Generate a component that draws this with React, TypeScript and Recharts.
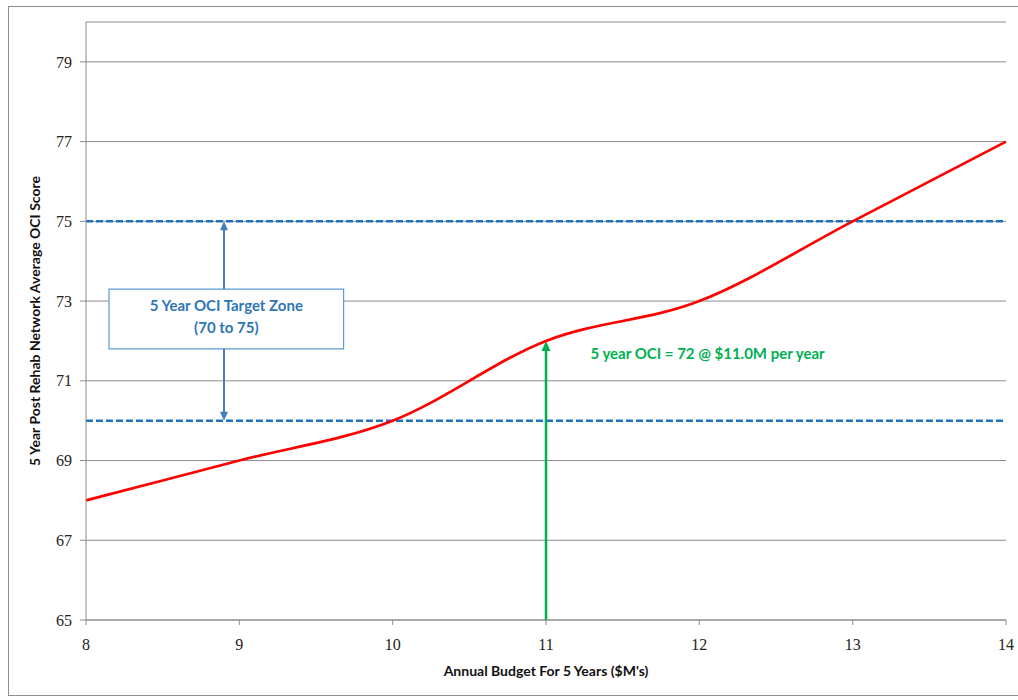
import React from 'react';
import {
  LineChart,
  Line,
  XAxis,
  YAxis,
  CartesianGrid,
  ReferenceLine,
  ReferenceArea,
  ReferenceDot,
} from 'recharts';

// ---- data ----
const budgets = [8, 9, 10, 11, 12, 13, 14];
const ociScores = [68, 69, 70, 72, 73, 75, 77];
const xTicks = [8, 9, 10, 11, 12, 13, 14];
const yTicks = [65, 67, 69, 71, 73, 75, 77, 79];
const targetZone = [70, 75];
const selectedBudget = 11;
const selectedScore = 72;
const zoneTitle = ['5 Year OCI Target Zone', '(70 to 75)'];
const selectedText = '5 year OCI = 72 @ $11.0M per year';
const xTitle = "Annual Budget For 5 Years ($M's)";
const yTitle = '5 Year Post Rehab Network Average OCI Score';

// annotation placement (data coordinates)
const zoneArrowX = 8.9;
const zoneBoxX = [8.15, 9.68];
const zoneBoxY = [71.8, 73.3];
const selectedTextAt = { x: 11.29, y: 71.67 };

const data = budgets.map((b, i) => ({ budget: b, oci: ociScores[i] }));

const BLUE_DASH = '#1F72C0';
const BLUE_ARROW = '#4A7EBB';
const BLUE_TEXT = '#2E75B6';
const GREEN = '#00B050';
const GRID = '#8C8C8C';
const SANS = 'Lato, "Open Sans", sans-serif';
const SERIF = '"Liberation Serif", "DejaVu Serif", serif';

const arrowShape = (color: string, width: number, headLen: number, headHalf: number) => (props: any) => {
  const { x1, y1, x2, y2 } = props;
  // head at (x2, y2)
  const dx = x2 - x1;
  const dy = y2 - y1;
  const len = Math.sqrt(dx * dx + dy * dy) || 1;
  const ux = dx / len;
  const uy = dy / len;
  const bx = x2 - ux * headLen;
  const by = y2 - uy * headLen;
  const px = -uy;
  const py = ux;
  const pts = `${x2},${y2} ${bx + px * headHalf},${by + py * headHalf} ${bx - px * headHalf},${by - py * headHalf}`;
  return (
    <g>
      <line x1={x1} y1={y1} x2={bx + ux * 2} y2={by + uy * 2} stroke={color} strokeWidth={width} />
      <polygon points={pts} fill={color} />
    </g>
  );
};

const ZoneLabel = (props: any) => {
  const vb = props.viewBox || {};
  const cx = vb.x + vb.width / 2;
  const cy = vb.y + vb.height / 2;
  return (
    <text textAnchor="middle" fill={BLUE_TEXT} fontFamily={SANS} fontSize={15} fontWeight={700}>
      <tspan x={cx} y={cy - 8}>{zoneTitle[0]}</tspan>
      <tspan x={cx} y={cy + 14}>{zoneTitle[1]}</tspan>
    </text>
  );
};

export default function App() {
  return (
    <div style={{ position: 'absolute', left: 0, top: 0, width: 1018, height: 700, background: '#fff', overflow: 'hidden' }}>
      <div
        style={{
          position: 'absolute',
          left: 8,
          top: 6,
          width: 1030,
          height: 690,
          border: '1px solid #8f8f8f',
          boxSizing: 'border-box',
        }}
      />
      <div style={{ position: 'absolute', left: 0, top: 0 }}>
        <LineChart
          width={1018}
          height={700}
          data={data}
          margin={{ top: 22, right: 12, bottom: 50, left: 26 }}
        >
          <CartesianGrid vertical={false} stroke={GRID} strokeWidth={1} />
          <XAxis
            dataKey="budget"
            type="number"
            domain={[8, 14]}
            ticks={xTicks}
            height={30}
            stroke={GRID}
            tickSize={5}
            tickMargin={14}
            tick={{ fill: '#222', fontFamily: SERIF, fontSize: 16 }}
            label={{ value: xTitle, position: 'bottom', offset: 16, fill: '#111', fontFamily: SANS, fontSize: 14, fontWeight: 700 }}
          />
          <YAxis
            type="number"
            domain={[65, 80]}
            ticks={yTicks}
            width={60}
            stroke={GRID}
            tickSize={6}
            tickMargin={8}
            tick={{ fill: '#222', fontFamily: SERIF, fontSize: 16 }}
            label={{
              value: yTitle,
              angle: -90,
              position: 'insideLeft',
              offset: 9,
              fill: '#111',
              fontFamily: SANS,
              fontSize: 14,
              fontWeight: 700,
              style: { textAnchor: 'middle' },
            }}
          />
          <ReferenceLine y={targetZone[1]} stroke={BLUE_DASH} strokeWidth={2.5} strokeDasharray="7 3" />
          <ReferenceLine y={targetZone[0]} stroke={BLUE_DASH} strokeWidth={2.5} strokeDasharray="7 3" />
          <ReferenceLine
            segment={[{ x: zoneArrowX, y: zoneBoxY[1] }, { x: zoneArrowX, y: targetZone[1] }]}
            shape={arrowShape(BLUE_ARROW, 2, 9, 4)}
          />
          <ReferenceLine
            segment={[{ x: zoneArrowX, y: zoneBoxY[0] }, { x: zoneArrowX, y: targetZone[0] }]}
            shape={arrowShape(BLUE_ARROW, 2, 9, 4)}
          />
          <ReferenceArea
            x1={zoneBoxX[0]}
            x2={zoneBoxX[1]}
            y1={zoneBoxY[0]}
            y2={zoneBoxY[1]}
            fill="#ffffff"
            fillOpacity={1}
            stroke="#5B9BD5"
            strokeWidth={1.2}
            label={(p: any) => <ZoneLabel {...p} />}
          />
          <ReferenceLine
            segment={[{ x: selectedBudget, y: 65 }, { x: selectedBudget, y: selectedScore }]}
            shape={arrowShape(GREEN, 2.5, 10, 4.5)}
          />
          <ReferenceDot
            x={selectedTextAt.x}
            y={selectedTextAt.y}
            r={0.01}
            fill="none"
            stroke="none"
            label={{ value: selectedText, position: 'right', offset: 0, fill: GREEN, fontFamily: SANS, fontSize: 15, fontWeight: 700 }}
          />
          <Line
            type="monotone"
            dataKey="oci"
            stroke="#FF0000"
            strokeWidth={2.7}
            dot={false}
            activeDot={false}
            isAnimationActive={false}
          />
        </LineChart>
      </div>
    </div>
  );
}
